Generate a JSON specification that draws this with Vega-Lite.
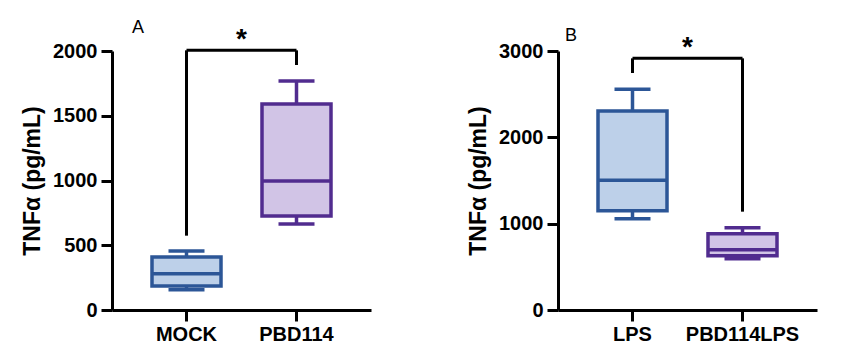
{
  "$schema": "https://vega.github.io/schema/vega-lite/v6.json",
  "background": "white",
  "padding": {"left": 21, "top": 19, "right": 5, "bottom": 5},
  "datasets": {
    "boxA": [
      {"group": "MOCK", "min": 157, "q1": 185, "median": 280, "q3": 409, "max": 456},
      {"group": "PBD114", "min": 664, "q1": 726, "median": 996, "q3": 1591, "max": 1768}
    ],
    "boxB": [
      {"group": "LPS", "min": 1058, "q1": 1150, "median": 1502, "q3": 2305, "max": 2556},
      {"group": "PBD114LPS", "min": 594, "q1": 629, "median": 698, "q3": 884, "max": 952}
    ],
    "legA": [
      {"group": "MOCK", "lo": 574, "hi": 2005},
      {"group": "PBD114", "lo": 1892, "hi": 2005}
    ],
    "legB": [
      {"group": "LPS", "lo": 2745, "hi": 2915},
      {"group": "PBD114LPS", "lo": 1139, "hi": 2915}
    ],
    "barA": [{"from": "MOCK", "to": "PBD114", "y": 2005, "label": "*"}],
    "barB": [{"from": "LPS", "to": "PBD114LPS", "y": 2915, "label": "*"}]
  },
  "config": {
    "font": "Liberation Sans",
    "view": {"stroke": null},
    "axis": {
      "domainColor": "black", "domainWidth": 3, "tickColor": "black", "tickWidth": 3, "tickSize": 11,
      "labelFont": "Liberation Sans", "labelFontWeight": "bold", "labelFontSize": 20, "labelColor": "black",
      "titleFont": "Liberation Sans", "titleFontWeight": "bold", "titleFontSize": 23, "titleColor": "black",
      "grid": false
    },
    "concat": {"spacing": 96}
  },
  "hconcat": [
    {
      "width": 259, "height": 259,
      "title": {"text": "A", "anchor": "start", "frame": "group", "dx": 20, "fontSize": 18, "fontWeight": "normal", "font": "Liberation Sans", "color": "black", "offset": -11},
      "layer": [
        {
          "data": {"name": "boxA"},
          "mark": {"type": "rule", "strokeWidth": 3.5},
          "encoding": {
            "x": {"field": "group", "type": "nominal", "sort": ["MOCK", "PBD114"],
                  "scale": {"type": "band", "paddingInner": 0.3727, "paddingOuter": 0.3636},
                  "axis": {"title": null, "labelAngle": 0, "labelPadding": 3}},
            "y": {"field": "min", "type": "quantitative", "scale": {"domain": [0, 2000], "nice": false},
                  "axis": {"title": "TNFα (pg/mL)", "values": [0, 500, 1000, 1500, 2000], "format": "d", "labelPadding": 4, "titlePadding": 8}},
            "y2": {"field": "q1"},
            "color": {"field": "group", "type": "nominal", "scale": {"domain": ["MOCK", "PBD114"], "range": ["#2c5697", "#512c8f"]}, "legend": null}
          }
        },
        {
          "data": {"name": "boxA"},
          "mark": {"type": "rule", "strokeWidth": 3.5},
          "encoding": {
            "x": {"field": "group", "type": "nominal", "sort": ["MOCK", "PBD114"]},
            "y": {"field": "q3", "type": "quantitative"},
            "y2": {"field": "max"},
            "color": {"field": "group", "type": "nominal", "legend": null}
          }
        },
        {
          "data": {"name": "boxA"},
          "mark": {"type": "tick", "orient": "horizontal", "size": 36, "thickness": 3.5, "opacity": 1},
          "encoding": {
            "x": {"field": "group", "type": "nominal", "sort": ["MOCK", "PBD114"]},
            "y": {"field": "max", "type": "quantitative"},
            "color": {"field": "group", "type": "nominal", "legend": null}
          }
        },
        {
          "data": {"name": "boxA"},
          "mark": {"type": "tick", "orient": "horizontal", "size": 36, "thickness": 3.5, "opacity": 1},
          "encoding": {
            "x": {"field": "group", "type": "nominal", "sort": ["MOCK", "PBD114"]},
            "y": {"field": "min", "type": "quantitative"},
            "color": {"field": "group", "type": "nominal", "legend": null}
          }
        },
        {
          "data": {"name": "boxA"},
          "mark": {"type": "bar", "strokeWidth": 3.5, "opacity": 1},
          "encoding": {
            "x": {"field": "group", "type": "nominal", "sort": ["MOCK", "PBD114"]},
            "y": {"field": "q1", "type": "quantitative"},
            "y2": {"field": "q3"},
            "fill": {"field": "group", "type": "nominal", "scale": {"domain": ["MOCK", "PBD114"], "range": ["#bdd0e9", "#d1c4e6"]}, "legend": null},
            "stroke": {"field": "group", "type": "nominal", "scale": {"domain": ["MOCK", "PBD114"], "range": ["#2c5697", "#512c8f"]}, "legend": null}
          }
        },
        {
          "data": {"name": "boxA"},
          "mark": {"type": "tick", "orient": "horizontal", "size": 70, "thickness": 3.5, "opacity": 1},
          "encoding": {
            "x": {"field": "group", "type": "nominal", "sort": ["MOCK", "PBD114"]},
            "y": {"field": "median", "type": "quantitative"},
            "color": {"field": "group", "type": "nominal", "legend": null}
          }
        },
        {
          "data": {"name": "legA"},
          "mark": {"type": "rule", "strokeWidth": 3, "color": "black"},
          "encoding": {
            "x": {"field": "group", "type": "nominal", "sort": ["MOCK", "PBD114"]},
            "y": {"field": "lo", "type": "quantitative"},
            "y2": {"field": "hi"}
          }
        },
        {
          "data": {"name": "barA"},
          "mark": {"type": "rule", "strokeWidth": 3, "color": "black"},
          "encoding": {
            "x": {"field": "from", "type": "nominal"},
            "x2": {"field": "to"},
            "y": {"field": "y", "type": "quantitative"}
          }
        },
        {
          "data": {"name": "barA"},
          "mark": {"type": "text", "fontSize": 28, "fontWeight": "bold", "color": "black", "baseline": "middle", "dy": -10},
          "encoding": {
            "x": {"field": "from", "type": "nominal", "bandPosition": 1.297},
            "y": {"field": "y", "type": "quantitative"},
            "text": {"field": "label"}
          }
        }
      ]
    },
    {
      "width": 259, "height": 259,
      "title": {"text": "B", "anchor": "start", "frame": "group", "dx": 7, "fontSize": 18, "fontWeight": "normal", "font": "Liberation Sans", "color": "black", "offset": -11},
      "layer": [
        {
          "data": {"name": "boxB"},
          "mark": {"type": "rule", "strokeWidth": 3.5},
          "encoding": {
            "x": {"field": "group", "type": "nominal", "sort": ["LPS", "PBD114LPS"],
                  "scale": {"type": "band", "paddingInner": 0.3727, "paddingOuter": 0.3636},
                  "axis": {"title": null, "labelAngle": 0, "labelPadding": 3}},
            "y": {"field": "min", "type": "quantitative", "scale": {"domain": [0, 3000], "nice": false},
                  "axis": {"title": "TNFα (pg/mL)", "values": [0, 1000, 2000, 3000], "format": "d", "labelPadding": 4, "titlePadding": 8}},
            "y2": {"field": "q1"},
            "color": {"field": "group", "type": "nominal", "scale": {"domain": ["LPS", "PBD114LPS"], "range": ["#2c5697", "#512c8f"]}, "legend": null}
          }
        },
        {
          "data": {"name": "boxB"},
          "mark": {"type": "rule", "strokeWidth": 3.5},
          "encoding": {
            "x": {"field": "group", "type": "nominal", "sort": ["LPS", "PBD114LPS"]},
            "y": {"field": "q3", "type": "quantitative"},
            "y2": {"field": "max"},
            "color": {"field": "group", "type": "nominal", "legend": null}
          }
        },
        {
          "data": {"name": "boxB"},
          "mark": {"type": "tick", "orient": "horizontal", "size": 36, "thickness": 3.5, "opacity": 1},
          "encoding": {
            "x": {"field": "group", "type": "nominal", "sort": ["LPS", "PBD114LPS"]},
            "y": {"field": "max", "type": "quantitative"},
            "color": {"field": "group", "type": "nominal", "legend": null}
          }
        },
        {
          "data": {"name": "boxB"},
          "mark": {"type": "tick", "orient": "horizontal", "size": 36, "thickness": 3.5, "opacity": 1},
          "encoding": {
            "x": {"field": "group", "type": "nominal", "sort": ["LPS", "PBD114LPS"]},
            "y": {"field": "min", "type": "quantitative"},
            "color": {"field": "group", "type": "nominal", "legend": null}
          }
        },
        {
          "data": {"name": "boxB"},
          "mark": {"type": "bar", "strokeWidth": 3.5, "opacity": 1},
          "encoding": {
            "x": {"field": "group", "type": "nominal", "sort": ["LPS", "PBD114LPS"]},
            "y": {"field": "q1", "type": "quantitative"},
            "y2": {"field": "q3"},
            "fill": {"field": "group", "type": "nominal", "scale": {"domain": ["LPS", "PBD114LPS"], "range": ["#bdd0e9", "#d1c4e6"]}, "legend": null},
            "stroke": {"field": "group", "type": "nominal", "scale": {"domain": ["LPS", "PBD114LPS"], "range": ["#2c5697", "#512c8f"]}, "legend": null}
          }
        },
        {
          "data": {"name": "boxB"},
          "mark": {"type": "tick", "orient": "horizontal", "size": 70, "thickness": 3.5, "opacity": 1},
          "encoding": {
            "x": {"field": "group", "type": "nominal", "sort": ["LPS", "PBD114LPS"]},
            "y": {"field": "median", "type": "quantitative"},
            "color": {"field": "group", "type": "nominal", "legend": null}
          }
        },
        {
          "data": {"name": "legB"},
          "mark": {"type": "rule", "strokeWidth": 3, "color": "black"},
          "encoding": {
            "x": {"field": "group", "type": "nominal", "sort": ["LPS", "PBD114LPS"]},
            "y": {"field": "lo", "type": "quantitative"},
            "y2": {"field": "hi"}
          }
        },
        {
          "data": {"name": "barB"},
          "mark": {"type": "rule", "strokeWidth": 3, "color": "black"},
          "encoding": {
            "x": {"field": "from", "type": "nominal"},
            "x2": {"field": "to"},
            "y": {"field": "y", "type": "quantitative"}
          }
        },
        {
          "data": {"name": "barB"},
          "mark": {"type": "text", "fontSize": 28, "fontWeight": "bold", "color": "black", "baseline": "middle", "dy": -10},
          "encoding": {
            "x": {"field": "from", "type": "nominal", "bandPosition": 1.297},
            "y": {"field": "y", "type": "quantitative"},
            "text": {"field": "label"}
          }
        }
      ]
    }
  ]
}
